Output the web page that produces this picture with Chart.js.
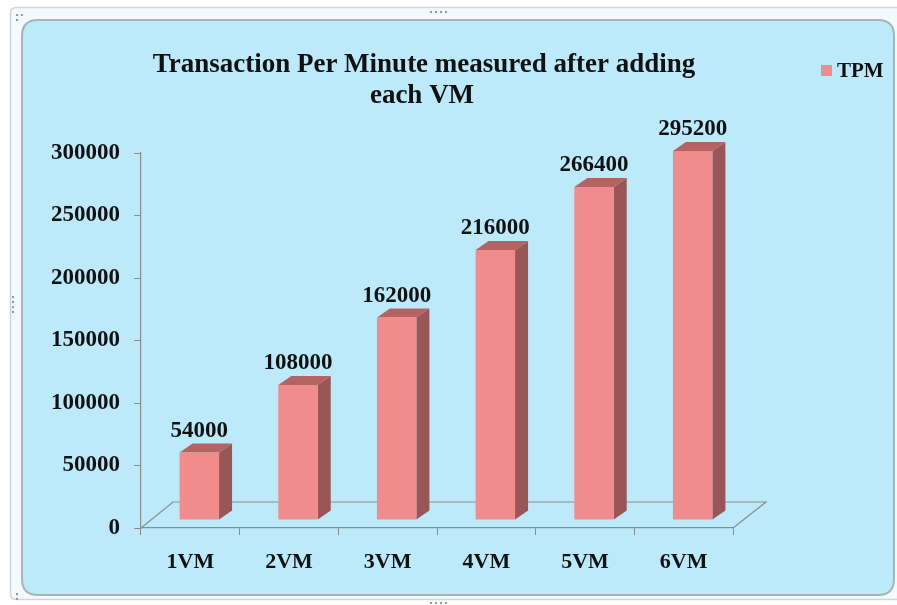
<!DOCTYPE html>
<html>
<head>
<meta charset="utf-8">
<script src="https://cdn.jsdelivr.net/npm/chart.js@4.4.0/dist/chart.umd.min.js"></script>
<style>
  body { margin: 0; background: #ffffff; }
  canvas { display: block; }
</style>
</head>
<body>
<canvas id="miGrafico" width="897" height="605"></canvas>
<script>
const categorias = ["1VM", "2VM", "3VM", "4VM", "5VM", "6VM"];
const valoresTPM = [54000, 108000, 162000, 216000, 266400, 295200];
const tituloLineas = ["Transaction Per Minute measured after adding", "each VM"];
const nombreSerie = "TPM";

const fuente = "'Liberation Serif', 'Times New Roman', serif";

// colores de las caras del "3D"
const caraFrente = "#f08c8c";
const caraLado = "#995656";
const caraArriba = "#b46262";

// desplazamiento de la barra dentro del piso y profundidad
const sx = 9, sy = -8;
const dx = 13, dy = -9;

function rr(c, x, y, w, h, r) {
  c.beginPath();
  c.moveTo(x + r, y);
  c.lineTo(x + w - r, y);
  c.quadraticCurveTo(x + w, y, x + w, y + r);
  c.lineTo(x + w, y + h - r);
  c.quadraticCurveTo(x + w, y + h, x + w - r, y + h);
  c.lineTo(x + r, y + h);
  c.quadraticCurveTo(x, y + h, x, y + h - r);
  c.lineTo(x, y + r);
  c.quadraticCurveTo(x, y, x + r, y);
  c.closePath();
}

const fondo = {
  id: "fondo",
  beforeDraw(chart) {
    const c = chart.ctx;
    c.save();
    c.fillStyle = "#ffffff";
    c.fillRect(0, 0, chart.width, chart.height);
    // marco exterior
    rr(c, 10.5, 7.5, 895, 592, 6);
    c.fillStyle = "#f3fafd";
    c.fill();
    c.strokeStyle = "#cdd6d9";
    c.lineWidth = 1.5;
    c.stroke();
    // panel azul
    rr(c, 22, 20, 872, 575, 16);
    c.fillStyle = "#bdeafb";
    c.fill();
    c.strokeStyle = "#a9b4b8";
    c.lineWidth = 2;
    c.stroke();
    // puntitos de los tiradores
    c.fillStyle = "#8f9a9e";
    [430, 435, 440, 445].forEach((x) => {
      c.fillRect(x, 11, 2, 2);
      c.fillRect(x, 602, 2, 2);
    });
    [296, 301, 306, 311].forEach((y) => c.fillRect(12, y, 2, 2));
    c.fillRect(16, 14, 2, 2);
    c.fillRect(21, 14, 2, 2);
    c.fillRect(16, 19, 2, 2);
    c.fillRect(16, 598, 2, 2);
    c.fillRect(16, 593, 2, 2);
    c.restore();
  },
};

const barras3d = {
  id: "barras3d",
  beforeDatasetsDraw(chart) {
    const c = chart.ctx;
    const a = chart.chartArea;
    // piso
    c.save();
    c.strokeStyle = "#8c8c8c";
    c.lineWidth = 1.2;
    c.beginPath();
    c.moveTo(a.left, a.bottom);
    c.lineTo(a.left + 32, a.bottom - 26);
    c.lineTo(a.right + 33, a.bottom - 26);
    c.lineTo(a.right, a.bottom);
    c.stroke();
    c.restore();
  },
  afterDatasetsDraw(chart) {
    const c = chart.ctx;
    const meta = chart.getDatasetMeta(0);
    c.save();
    meta.data.forEach((el, i) => {
      const w = el.width;
      const x0 = el.x - w / 2 + sx;
      const x1 = x0 + w;
      const top = el.y + sy;
      const bot = el.base + sy;
      // lado
      c.fillStyle = caraLado;
      c.beginPath();
      c.moveTo(x1, top);
      c.lineTo(x1 + dx, top + dy);
      c.lineTo(x1 + dx, bot + dy);
      c.lineTo(x1, bot);
      c.closePath();
      c.fill();
      // arriba
      c.fillStyle = caraArriba;
      c.beginPath();
      c.moveTo(x0, top);
      c.lineTo(x0 + dx, top + dy);
      c.lineTo(x1 + dx, top + dy);
      c.lineTo(x1, top);
      c.closePath();
      c.fill();
      // frente
      c.fillStyle = caraFrente;
      c.fillRect(x0, top, w, bot - top);
      // etiqueta
      c.fillStyle = "#111111";
      c.font = "bold 23px " + fuente;
      c.textAlign = "center";
      c.textBaseline = "bottom";
      c.fillText(String(valoresTPM[i]), x0 + w / 2, top + dy - 1);
    });
    c.restore();
  },
  afterDraw(chart) {
    const c = chart.ctx;
    c.save();
    c.fillStyle = "#111111";
    c.textAlign = "center";
    c.textBaseline = "middle";
    c.font = "bold 27px " + fuente;
    c.fillText(tituloLineas[0], 424, 65);
    c.fillText(tituloLineas[1], 422, 96);
    // leyenda
    c.fillStyle = caraFrente;
    c.fillRect(821, 65, 11, 11);
    c.fillStyle = "#111111";
    c.textAlign = "left";
    c.font = "bold 21px " + fuente;
    c.fillText(nombreSerie, 837, 72);
    c.restore();
  },
};

const ctx = document.getElementById("miGrafico").getContext("2d");

const datos = {
  labels: categorias,
  datasets: [
    {
      label: nombreSerie,
      data: valoresTPM,
      backgroundColor: "rgba(0,0,0,0)",
      borderWidth: 0,
      barPercentage: 0.4,
      categoryPercentage: 1,
    },
  ],
};

const miGrafico = new Chart(ctx, {
  type: "bar",
  data: datos,
  plugins: [fondo, barras3d],
  options: {
    responsive: false,
    animation: false,
    layout: {
      padding: { left: 0, top: 153, right: 164, bottom: 0 },
    },
    plugins: {
      legend: { display: false },
      title: { display: false },
      tooltip: { enabled: false },
    },
    scales: {
      x: {
        afterFit(scale) {
          scale.height = 77;
        },
        grid: {
          drawOnChartArea: false,
          drawTicks: true,
          tickLength: 7,
          color: "#8c8c8c",
        },
        border: { display: true, color: "#8c8c8c", width: 1.2 },
        ticks: {
          color: "#111111",
          padding: 14,
          font: { family: fuente, size: 22, weight: "bold" },
        },
      },
      y: {
        min: 0,
        max: 300000,
        afterFit(scale) {
          scale.width = 141;
        },
        grid: {
          drawOnChartArea: false,
          drawTicks: true,
          tickLength: 7,
          color: "#8c8c8c",
        },
        border: { display: true, color: "#8c8c8c", width: 1.2 },
        ticks: {
          stepSize: 50000,
          color: "#111111",
          padding: 14,
          font: { family: fuente, size: 23, weight: "bold" },
          callback: (v) => String(v),
        },
      },
    },
  },
});
</script>
</body>
</html>
